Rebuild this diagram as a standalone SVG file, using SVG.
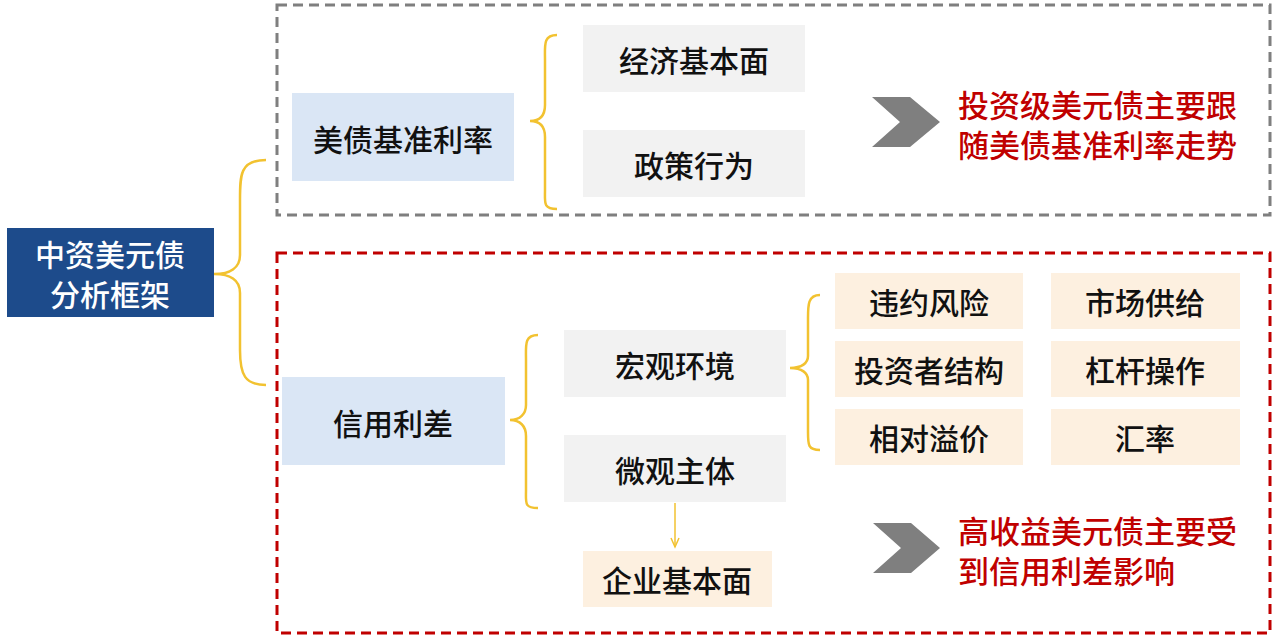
<svg xmlns="http://www.w3.org/2000/svg" width="1280" height="640" viewBox="0 0 1280 640">
<style>
text{font-family:"Noto Sans CJK SC","Noto Sans",sans-serif;font-size:30px;font-weight:500;fill:#111;text-anchor:middle;dominant-baseline:central}
.br{fill:none;stroke:#F2C230;stroke-width:2.5}
.g{fill:#F2F2F2}.b{fill:#DAE6F5}.o{fill:#FDF0E0}
.red{fill:#C00000;text-anchor:start;font-size:31px}
.chev{fill:#7F7F7F}
</style>
<defs><marker id="ah" markerWidth="12" markerHeight="10" refX="10" refY="5" orient="auto" markerUnits="userSpaceOnUse"><path d="M1,1 L10,5 L1,9" fill="none" stroke="#F2C230" stroke-width="1.5"/></marker></defs>
<rect x="277" y="5" width="993" height="210" fill="none" stroke="#7F7F7F" stroke-width="3" stroke-dasharray="10,6"/>
<rect x="277" y="253" width="993" height="380" fill="none" stroke="#C00000" stroke-width="3" stroke-dasharray="10,6"/>
<g id="connectors">
<path class="br" d="M266,160 C240,160 240,175 240,200 L240,255 C240,268 230,274 214,274 C230,274 240,280 240,293 L240,350 C240,375 245,385 266,385"/>
<path class="br" d="M557,35 C543,35 545,45 545,60 L545,105 C545,115 540,121 530,121 C540,121 545,127 545,137 L545,190 C545,203 543,209 557,209"/>
<path class="br" d="M538,335 C524,335 526,345 526,360 L526,405 C526,414 520,420 510,420 C520,420 526,426 526,436 L526,490 C526,503 524,508 538,508"/>
<path class="br" d="M820,295 C808,295 808,305 808,318 L808,356 C808,363 802,368 790,368 C802,368 808,373 808,380 L808,432 C808,445 808,450 820,450"/>
<line x1="675" y1="503" x2="675" y2="547" stroke="#F2C230" stroke-width="1.5" marker-end="url(#ah)"/>
</g>
<g id="main"><rect x="7" y="228" width="207" height="89" fill="#1D4B8B"/><text x="110" y="253" style="fill:#fff">中资美元债</text><text x="110" y="293" style="fill:#fff">分析框架</text></g>
<g id="n1"><rect class="b" x="292" y="93" width="222" height="88"/><text x="403" y="138">美债基准利率</text></g>
<g id="n2"><rect class="g" x="583" y="25" width="222" height="67"/><text x="694" y="59">经济基本面</text></g>
<g id="n3"><rect class="g" x="583" y="130" width="222" height="67"/><text x="694" y="164">政策行为</text></g>
<g id="c1"><polygon class="chev" points="872,97 910,97 940,122 910,147 872,147 900,122"/></g>
<g id="t1"><text class="red" x="958" y="103">投资级美元债主要跟</text><text class="red" x="958" y="143">随美债基准利率走势</text></g>
<g id="n4"><rect class="b" x="282" y="377" width="223" height="88"/><text x="393" y="422">信用利差</text></g>
<g id="n5"><rect class="g" x="564" y="330" width="222" height="67"/><text x="675" y="364">宏观环境</text></g>
<g id="n6"><rect class="g" x="564" y="435" width="222" height="67"/><text x="675" y="469">微观主体</text></g>
<g id="n7"><rect class="o" x="583" y="551" width="189" height="56"/><text x="677" y="579">企业基本面</text></g>
<g id="g1"><rect class="o" x="835" y="273" width="188" height="56"/><text x="929" y="301">违约风险</text></g>
<g id="g2"><rect class="o" x="1051" y="273" width="189" height="56"/><text x="1145" y="301">市场供给</text></g>
<g id="g3"><rect class="o" x="835" y="341" width="188" height="56"/><text x="929" y="369">投资者结构</text></g>
<g id="g4"><rect class="o" x="1051" y="341" width="189" height="56"/><text x="1145" y="369">杠杆操作</text></g>
<g id="g5"><rect class="o" x="835" y="409" width="188" height="56"/><text x="929" y="437">相对溢价</text></g>
<g id="g6"><rect class="o" x="1051" y="409" width="189" height="56"/><text x="1145" y="437">汇率</text></g>
<g id="c2"><polygon class="chev" points="873,523 911,523 940,548 911,573 873,573 901,548"/></g>
<g id="t2"><text class="red" x="958" y="529">高收益美元债主要受</text><text class="red" x="958" y="569">到信用利差影响</text></g>
</svg>
